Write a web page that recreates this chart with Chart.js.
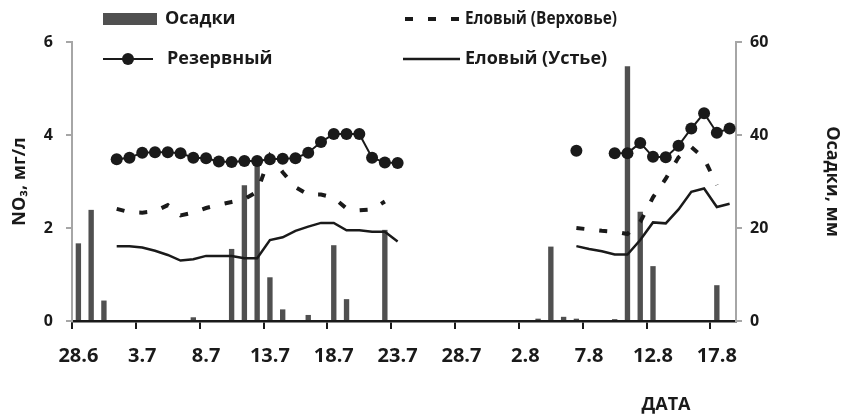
<!DOCTYPE html>
<html><head><meta charset="utf-8">
<script src="https://cdn.jsdelivr.net/npm/chart.js@4.4.0/dist/chart.umd.min.js"></script>
<style>html,body{margin:0;padding:0;background:#fff}#wrap{width:843px;height:418px;position:relative}</style>
</head><body><div id="wrap"><canvas id="c" width="843" height="418"></canvas></div>
<script>
const dates = ['28.6','29.6','30.6',
 '1.7','2.7','3.7','4.7','5.7','6.7','7.7','8.7','9.7','10.7','11.7','12.7','13.7','14.7','15.7','16.7','17.7','18.7','19.7','20.7','21.7','22.7','23.7','24.7','25.7','26.7','27.7','28.7','29.7','30.7','31.7',
 '1.8','2.8','3.8','4.8','5.8','6.8','7.8','8.8','9.8','10.8','11.8','12.8','13.8','14.8','15.8','16.8','17.8','18.8'];

const precip = [16.7,23.9,4.4, 0,0,0,0,0,0,0.8,0,0,15.5,29.2,34.6,9.4,2.5,0,1.3,0,16.3,4.7,0,0,19.6,0,0,0,0,0,0,0,0,0,
 0,0,0.5,16.0,0.9,0.5,0,0,0.4,54.8,23.5,11.8,0,0,0,0,7.7,0];

const rezervny = [null,null,null,
 3.48,3.51,3.62,3.63,3.63,3.61,3.51,3.50,3.43,3.42,3.44,3.44,3.48,3.49,3.50,3.62,3.85,4.02,4.02,4.02,3.51,3.41,3.40,
 null,null,null,null,null,null,null,null,null,null,null,null,null,
 3.66,null,null,3.61,3.61,3.83,3.53,3.52,3.77,4.14,4.47,4.05,4.14];

const verkhovye = [null,null,null,
 2.41,2.34,2.33,2.36,2.49,2.27,2.33,2.43,2.50,2.56,2.62,2.78,3.55,3.20,2.88,2.72,2.72,2.65,2.42,2.38,2.40,2.57,
 null,null,null,null,null,null,null,null,null,null,null,null,null,null,
 2.00,1.97,1.94,1.92,1.87,2.13,2.66,3.06,3.52,3.74,3.50,2.92,null];

const ustye = [null,null,null,
 1.61,1.61,1.58,1.51,1.42,1.30,1.33,1.40,1.40,1.40,1.35,1.35,1.74,1.80,1.94,2.03,2.11,2.11,1.95,1.95,1.92,1.92,1.71,
 null,null,null,null,null,null,null,null,null,null,null,null,null,
 1.61,1.55,1.50,1.43,1.43,1.74,2.12,2.10,2.40,2.78,2.85,2.45,2.52];

const labelStep = 5;
const FONT = '"Open Sans", "DejaVu Sans", sans-serif';
const INK = '#1a1a1a';
const BAR = '#505050';
const AXIS_GRAY = '#a6a6a6';

const legendPlugin = {
  id: 'customLegend',
  afterDraw(chart) {
    const ctx = chart.ctx;
    ctx.save();
    ctx.fillStyle = INK;
    ctx.strokeStyle = INK;
    ctx.font = 'bold 18px ' + FONT;
    ctx.textBaseline = 'middle';
    ctx.textAlign = 'left';
    // row 1
    ctx.fillStyle = BAR;
    ctx.fillRect(103, 13, 54, 12);
    ctx.fillStyle = INK;
    ctx.fillText('Осадки', 165, 19);
    ctx.lineWidth = 4;
    ctx.setLineDash([8, 15]);
    ctx.beginPath(); ctx.moveTo(405, 19); ctx.lineTo(459, 19); ctx.stroke();
    ctx.setLineDash([]);
    ctx.fillText('Еловый (Верховье)', 465, 19, 152);
    // row 2
    ctx.lineWidth = 2;
    ctx.beginPath(); ctx.moveTo(103, 59); ctx.lineTo(153, 59); ctx.stroke();
    ctx.beginPath(); ctx.arc(128, 59, 6, 0, Math.PI * 2); ctx.fill();
    ctx.fillText('Резервный', 167, 59);
    ctx.lineWidth = 2.5;
    ctx.beginPath(); ctx.moveTo(403, 59); ctx.lineTo(460, 59); ctx.stroke();
    ctx.fillText('Еловый (Устье)', 465, 59);
    // x-axis title
    ctx.textAlign = 'center';
    ctx.fillText('ДАТА', 666, 405);
    ctx.restore();
  }
};

new Chart(document.getElementById('c'), {
  type: 'bar',
  data: {
    labels: dates,
    datasets: [
      {type:'line', label:'Резервный', data: rezervny, yAxisID:'y', borderColor:INK, backgroundColor:INK,
       borderWidth:2, pointRadius:6, pointBackgroundColor:INK, pointBorderWidth:0, tension:0, spanGaps:false, order:0},
      {type:'line', label:'Еловый (Верховье)', data: verkhovye, yAxisID:'y', borderColor:INK, borderWidth:4,
       borderDash:[8,15], pointRadius:0, tension:0, spanGaps:false, order:1},
      {type:'line', label:'Еловый (Устье)', data: ustye, yAxisID:'y', borderColor:INK, borderWidth:2.5,
       pointRadius:0, tension:0, spanGaps:false, order:2},
      {type:'bar', label:'Осадки', data: precip, yAxisID:'y2', backgroundColor:BAR,
       barPercentage:0.42, categoryPercentage:1, order:3}
    ]
  },
  options: {
    responsive:false, animation:false,
    layout:{padding:{top:42,left:0,right:0,bottom:0}},
    plugins:{legend:{display:false}, tooltip:{enabled:false}},
    scales:{
      x:{
        offset:true,
        grid:{offset:true, drawOnChartArea:false, drawTicks:true, tickLength:8, lineWidth:2,
          color: c => (c.index !== undefined && c.index % labelStep === 0) ? INK : 'rgba(0,0,0,0)'},
        border:{display:true, color:INK, width:2.5},
        ticks:{autoSkip:false, maxRotation:0, minRotation:0, padding:15, color:INK,
          font:{family:FONT, size:20, weight:'bold'},
          callback:(v,i) => i % labelStep === 0 ? dates[i] : ''},
        afterFit: s => { s.height = 97; }
      },
      y:{
        position:'left', min:0, max:6,
        ticks:{stepSize:2, padding:13, color:INK, font:{family:FONT, size:16, weight:'bold'}},
        grid:{drawOnChartArea:false, color:AXIS_GRAY, lineWidth:2, tickLength:6},
        border:{display:true, color:AXIS_GRAY, width:2},
        title:{display:true, text:'NO₃, мг/л', color:INK, font:{family:FONT, size:18, weight:'bold'}, padding:{top:9,bottom:0}},
        afterFit: s => { s.width = 72; }
      },
      y2:{
        position:'right', min:0, max:60,
        ticks:{stepSize:20, padding:8, color:INK, font:{family:FONT, size:16, weight:'bold'}},
        grid:{drawOnChartArea:false, color:AXIS_GRAY, lineWidth:2, tickLength:6},
        border:{display:true, color:AXIS_GRAY, width:2},
        title:{display:true, text:'Осадки, мм', color:INK, font:{family:FONT, size:18, weight:'bold'}, padding:{top:0,bottom:0}},
        afterFit: s => { s.width = 107; }
      }
    }
  },
  plugins:[legendPlugin]
});
</script>
</body></html>
